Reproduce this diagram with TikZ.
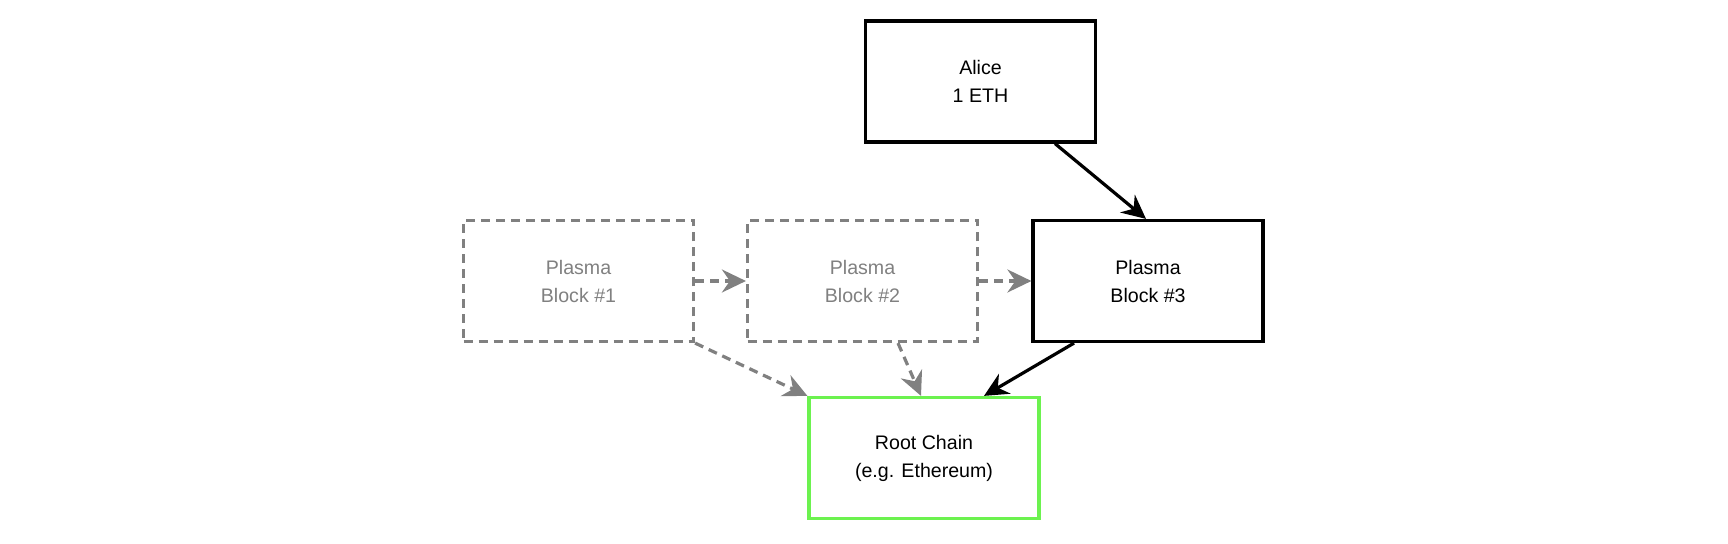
\documentclass[tikz,border=0pt]{standalone}
\usepackage{fontspec}
\setmainfont{Liberation Sans}
\usetikzlibrary{arrows.meta,calc}
\definecolor{dgray}{HTML}{808080}
\definecolor{rgreen}{HTML}{6CF24F}
\tikzset{
  box/.style={draw=black, line width=1.6pt, rectangle, minimum width=115pt, minimum height=60.5pt, align=center, font=\fontsize{9.8}{14}\selectfont, text=black},
  ghost/.style={box, draw=dgray, text=dgray, dash pattern=on 4.5pt off 3pt},
  rootbox/.style={box, draw=rgreen},
  solidarrow/.style={draw=black, line width=1.6pt, -{Stealth[length=12pt,width=11.5pt,inset=4pt]}},
  ghostarrow/.style={draw=dgray, line width=1.6pt, dash pattern=on 4.5pt off 3pt, -{Stealth[length=12pt,width=11.5pt,inset=4pt,sep=0pt]}},
}
\begin{document}
\begin{tikzpicture}[x=0.5pt,y=-0.5pt]
\useasboundingbox (0,0) rectangle (1728,544);
\node[box] (alice) at (980.5,81.5) {Alice\\1 ETH};
\node[ghost] (b1) at (578.5,281) {Plasma\\Block \#1};
\node[ghost] (b2) at (862.5,281) {Plasma\\Block \#2};
\node[box] (b3) at (1148,281) {Plasma\\Block \#3};
\node[rootbox] (root) at (924,458) {Root Chain\\(e.g. Ethereum)};
\draw[solidarrow] ($(alice.south)+(74.5,0)$) -- ($(b3.north)+(-2,0)$);
\draw[ghostarrow] (b1.east) -- (b2.west);
\draw[ghostarrow] (b2.east) -- (b3.west);
\draw[ghostarrow] (b1.south east) -- (root.north west);
\draw[ghostarrow] ($(b2.south)+(35.5,0)$) -- ($(root.north)+(-3,0)$);
\draw[solidarrow] ($(b3.south)+(-74,0)$) -- ($(root.north)+(60,0)$);
\end{tikzpicture}
\end{document}
